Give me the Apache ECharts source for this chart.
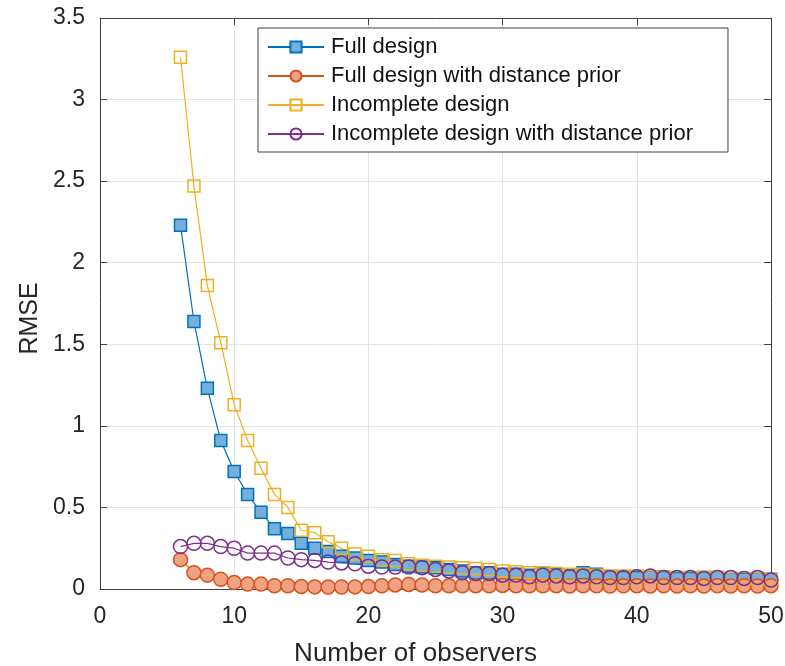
<!DOCTYPE html>
<html>
<head>
<meta charset="utf-8">
<script src="https://cdn.jsdelivr.net/npm/echarts@6/dist/echarts.min.js"></script>
<style>
  html, body { margin: 0; padding: 0; background: #fff; }
  #chart { width: 785px; height: 666px; }
</style>
</head>
<body>
<div id="chart"></div>
<script>
// observers 6..50
const observers = [6, 7, 8, 9, 10, 11, 12, 13, 14, 15, 16, 17, 18, 19, 20, 21, 22, 23, 24, 25, 26, 27, 28,
  29, 30, 31, 32, 33, 34, 35, 36, 37, 38, 39, 40, 41, 42, 43, 44, 45, 46, 47, 48, 49, 50]

const fullDesign = [2.23, 1.64, 1.23, 0.91, 0.72, 0.58, 0.47, 0.37, 0.34, 0.28, 0.25, 0.23, 0.20, 0.19, 0.175,
  0.165, 0.15, 0.14, 0.135, 0.13, 0.12, 0.11, 0.10, 0.10, 0.09, 0.09, 0.085, 0.10, 0.09, 0.08, 0.10, 0.09,
  0.075, 0.07, 0.07, 0.075, 0.07, 0.065, 0.065, 0.07, 0.07, 0.065, 0.06, 0.065, 0.06]

const fullPrior = [0.18, 0.10, 0.085, 0.06, 0.04, 0.03, 0.03, 0.02, 0.02, 0.015, 0.013, 0.012, 0.012, 0.013,
  0.015, 0.02, 0.025, 0.028, 0.025, 0.02, 0.02, 0.02, 0.02, 0.02, 0.022, 0.02, 0.02, 0.02, 0.02, 0.018, 0.02,
  0.02, 0.018, 0.02, 0.02, 0.018, 0.02, 0.018, 0.02, 0.018, 0.02, 0.018, 0.02, 0.018, 0.02]

const incomplete = [3.26, 2.47, 1.86, 1.51, 1.13, 0.91, 0.74, 0.58, 0.50, 0.36, 0.345, 0.29, 0.25, 0.215, 0.20,
  0.18, 0.175, 0.155, 0.145, 0.14, 0.135, 0.13, 0.125, 0.12, 0.11, 0.105, 0.10, 0.10, 0.095, 0.09, 0.09, 0.085,
  0.08, 0.08, 0.08, 0.075, 0.075, 0.07, 0.07, 0.07, 0.07, 0.065, 0.065, 0.065, 0.06]

const incompletePrior = [0.26, 0.28, 0.28, 0.26, 0.25, 0.22, 0.22, 0.22, 0.19, 0.18, 0.175, 0.165, 0.16, 0.155,
  0.14, 0.135, 0.135, 0.135, 0.13, 0.12, 0.11, 0.10, 0.095, 0.095, 0.085, 0.085, 0.075, 0.085, 0.08, 0.075,
  0.08, 0.075, 0.07, 0.07, 0.075, 0.08, 0.07, 0.07, 0.07, 0.065, 0.07, 0.07, 0.065, 0.07, 0.055]

const pairs = ys => observers.map((x, i) => [x, ys[i]])

const axisColor = '#404040'
const textColor = '#262626'
const font = 'Liberation Sans, Arial, sans-serif'

const myChart = echarts.init(document.getElementById('chart'))

myChart.setOption({
  animation: false,
  textStyle: { fontFamily: font },
  grid: { left: 100, right: 14, top: 18, bottom: 77, outerBoundsMode: 'none', containLabel: false },
  legend: {
    orient: 'vertical',
    left: 258,
    top: 28,
    padding: [8, 35, 7, 9],
    itemWidth: 56,
    itemHeight: 14,
    itemGap: 7,
    backgroundColor: '#fff',
    borderColor: axisColor,
    borderWidth: 1,
    textStyle: { fontSize: 22, color: '#111', fontFamily: font, padding: [0, 0, 0, 2] },
    data: ['Full design', 'Full design with distance prior', 'Incomplete design',
      'Incomplete design with distance prior']
  },
  xAxis: [
    {
      type: 'value',
      min: 0,
      max: 50,
      interval: 10,
      name: 'Number of observers',
      nameLocation: 'middle',
      nameGap: 52,
      // MATLAB label sits a bit left of centre
      nameTextStyle: { fontSize: 26, color: textColor, padding: [0, 40, 0, 0] },
      axisLine: { onZero: false, lineStyle: { color: axisColor } },
      axisTick: { inside: true, length: 7, lineStyle: { color: axisColor } },
      axisLabel: { fontSize: 23, color: textColor, margin: 16 },
      splitLine: { show: true, lineStyle: { color: '#e3e3e3' } }
    },
    {
      type: 'value',
      position: 'top',
      min: 0,
      max: 50,
      interval: 10,
      axisLine: { onZero: false, lineStyle: { color: axisColor } },
      axisTick: { inside: true, length: 7, lineStyle: { color: axisColor } },
      axisLabel: { show: false },
      splitLine: { show: false }
    }
  ],
  yAxis: [
    {
      type: 'value',
      min: 0,
      max: 3.5,
      interval: 0.5,
      name: 'RMSE',
      nameLocation: 'middle',
      nameGap: 55,
      nameTextStyle: { fontSize: 25, color: textColor, padding: [0, 30, 0, 0] },
      axisLine: { show: true, onZero: false, lineStyle: { color: axisColor } },
      axisTick: { show: true, inside: true, length: 7, lineStyle: { color: axisColor } },
      axisLabel: { fontSize: 23, color: textColor, margin: 15 },
      splitLine: { show: true, lineStyle: { color: '#e3e3e3' } }
    },
    {
      type: 'value',
      position: 'right',
      min: 0,
      max: 3.5,
      interval: 0.5,
      axisLine: { show: true, onZero: false, lineStyle: { color: axisColor } },
      axisTick: { show: true, inside: true, length: 7, lineStyle: { color: axisColor } },
      axisLabel: { show: false },
      splitLine: { show: false }
    }
  ],
  series: [
    {
      name: 'Full design',
      type: 'line',
      data: pairs(fullDesign),
      symbol: 'rect',
      symbolSize: 12,
      lineStyle: { color: '#0072BD', width: 1.2 },
      itemStyle: { color: '#75b0dd', borderColor: '#0072BD', borderWidth: 1.5 }
    },
    {
      name: 'Full design with distance prior',
      type: 'line',
      data: pairs(fullPrior),
      symbol: 'circle',
      symbolSize: 14,
      lineStyle: { color: '#D95319', width: 1.2 },
      itemStyle: { color: '#eea283', borderColor: '#D95319', borderWidth: 1.5 }
    },
    {
      name: 'Incomplete design',
      type: 'line',
      data: pairs(incomplete),
      symbol: 'rect',
      symbolSize: 12,
      lineStyle: { color: '#EDB120', width: 1.2 },
      itemStyle: { color: 'rgba(255,255,255,0)', borderColor: '#EDB120', borderWidth: 1.5 }
    },
    {
      name: 'Incomplete design with distance prior',
      type: 'line',
      data: pairs(incompletePrior),
      symbol: 'circle',
      symbolSize: 14,
      lineStyle: { color: '#7E2F8E', width: 1.2 },
      itemStyle: { color: 'rgba(255,255,255,0)', borderColor: '#7E2F8E', borderWidth: 1.5 }
    }
  ]
})
</script>
</body>
</html>
